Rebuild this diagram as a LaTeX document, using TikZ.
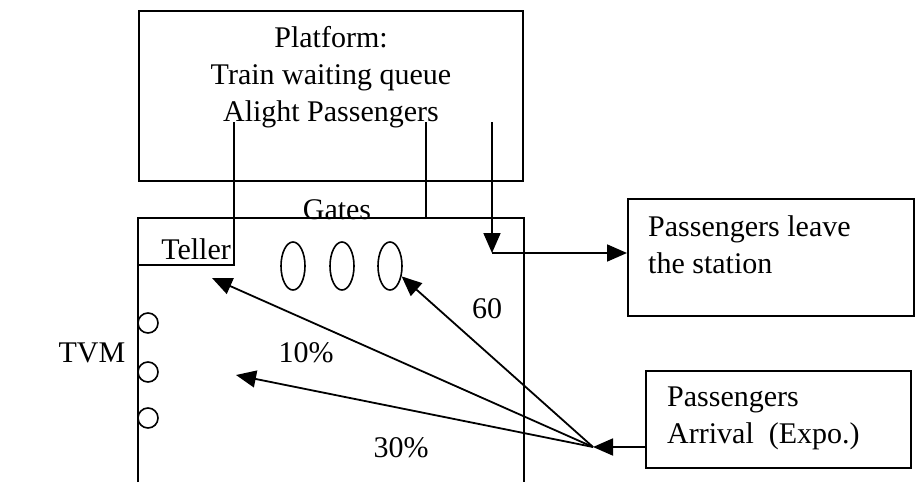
\documentclass[tikz,border=0pt]{standalone}
\usepackage{fontspec}
\setmainfont{Liberation Serif}
\usetikzlibrary{arrows.meta,shapes.geometric}
\begin{document}
\begin{tikzpicture}[x=1pt,y=-1pt,
  box/.style={draw, line width=2pt, inner sep=0pt},
  lbl/.style={font=\fontsize{30}{37}\selectfont, inner sep=0pt},
  wire/.style={line width=2pt},
  flow/.style={line width=1.8pt, -{Triangle[length=20pt,width=17pt]}},
  gate/.style={draw, ellipse, line width=1.6pt, minimum width=24pt, minimum height=48pt, inner sep=0pt},
  tvm/.style={draw, circle, line width=1.6pt, minimum size=20pt, inner sep=0pt},
]
\useasboundingbox (0,0) rectangle (915,482);

% platform block (multi-line labels are placed by the baseline of their last line)
\node[box, anchor=north west, minimum width=384pt, minimum height=170pt] (platform) at (138,10) {};
\node[lbl, anchor=base, align=center] (ptext) at (331,121)
  {Platform:\\Train waiting queue\\Alight Passengers};

% exit and arrival blocks
\node[box, anchor=north west, minimum width=286pt, minimum height=117pt] (leave) at (627,198) {};
\node[lbl, anchor=base west, align=left] (leavetext) at (648,273)
  {Passengers leave\\the station};
\node[box, anchor=north west, minimum width=265pt, minimum height=97pt] (arrive) at (645,370) {};
\node[lbl, anchor=base west, align=left] (arrivetext) at (667,443)
  {Passengers\\Arrival\ \ (Expo.)};

% concourse area (open at the bottom)
\coordinate (cbl) at (138,482);
\coordinate (ctl) at (138,218);
\coordinate (ctr) at (524,218);
\coordinate (cbr) at (524,482);
\draw[wire] (cbl) -- (ctl) -- (ctr) -- (cbr);

% labels
\node[lbl, anchor=base] (gates) at (337,219) {Gates};
\node[lbl, anchor=base east] (teller) at (231,259) {Teller};
\node[lbl, anchor=base] (tvmlabel) at (92,362) {TVM};
\node[lbl, anchor=base] (p10) at (306,362) {10\%};
\node[lbl, anchor=base] (p30) at (401,457) {30\%};
\node[lbl, anchor=base] (p60) at (487,318) {60};

% teller booth and the two boarding/alighting lines
\coordinate (alightL) at (234,122);
\coordinate (tellerbr) at (234,265);
\coordinate (tellerbl) at (138,265);
\draw[wire] (alightL) -- (tellerbr) -- (tellerbl);
\coordinate (alightR) at (426,122);
\coordinate (gatetop) at (426,218);
\draw[wire] (alightR) -- (gatetop);

% gates
\node[gate] (g1) at (293,266) {};
\node[gate] (g2) at (342,266) {};
\node[gate] (g3) at (390,266) {};

% ticket vending machines
\node[tvm] (t1) at (148,323) {};
\node[tvm] (t2) at (148,372) {};
\node[tvm] (t3) at (148,418) {};

% passengers leaving
\coordinate (exitsrc) at (492,122);
\coordinate (turn) at (492,253);
\draw[flow] (exitsrc) -- (turn);
\draw[flow] (turn) -- (turn -| leave.west);

% arriving passengers split three ways
\coordinate (hub) at (593,447);
\coordinate (tellertip) at (212,278);
\coordinate (tvmtip) at (236,375);
\draw[flow] (arrive.west |- hub) -- (hub);
\draw[flow] (hub) -- (tellertip);
\draw[flow] (hub) -- (tvmtip);
\draw[flow] (hub) -- (g3);
\end{tikzpicture}
\end{document}
